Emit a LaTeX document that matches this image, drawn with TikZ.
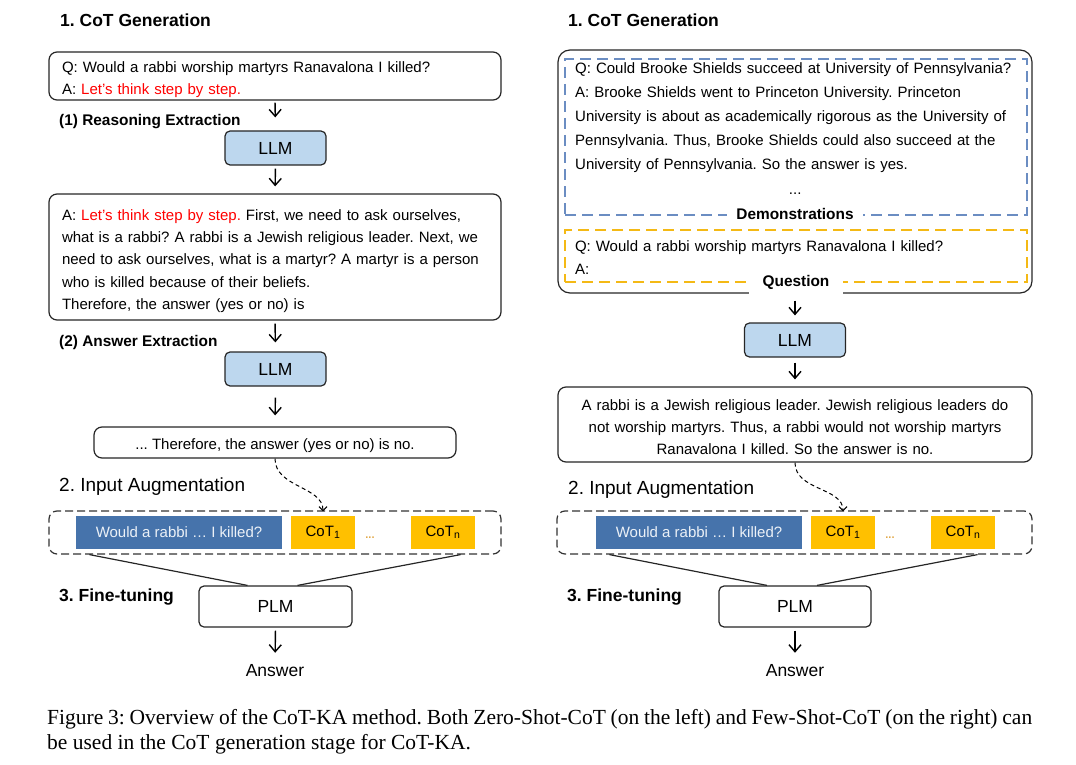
\documentclass[tikz,border=0pt]{standalone}
\usepackage{fontspec}
\setmainfont{Liberation Sans}
\newfontfamily\capfont{Liberation Serif}
\usetikzlibrary{arrows.meta,calc}

\definecolor{llmblue}{HTML}{BDD7EE}
\definecolor{qblue}{HTML}{4673AB}
\definecolor{cotgold}{HTML}{FFC000}
\definecolor{demoblue}{HTML}{6B8DC2}
\definecolor{quesgold}{HTML}{F4B915}
\definecolor{dotgold}{HTML}{E2A94A}

\newcommand{\bodyfont}{\fontsize{15}{22.3}\selectfont}
\newcommand{\bigfont}{\fontsize{17.5}{20}\selectfont}
\frenchspacing
\hyphenpenalty=10000

\begin{document}
\begin{tikzpicture}[x=1pt,y=-1pt,
  txtbox/.style={draw=black!85,line width=1.2pt,rounded corners=8pt,fill=white,inner xsep=13pt,inner ysep=0pt,font=\bodyfont},
  llmbox/.style={draw=black!85,line width=1.2pt,rounded corners=5pt,fill=llmblue,minimum width=101pt,minimum height=34pt,font=\bigfont},
  plmbox/.style={llmbox,fill=white,minimum width=153pt,minimum height=41pt},
  head/.style={anchor=base west,inner sep=0pt,font=\bigfont\bfseries},
  augtitle/.style={anchor=base west,inner sep=0pt,font=\fontsize{19}{22}\selectfont},
  subhead/.style={anchor=base west,inner sep=0pt,font=\fontsize{15.4}{18}\selectfont\bfseries},
  augbox/.style={draw=black!80,line width=1.2pt,dash pattern=on 8pt off 4pt,rounded corners=8pt,minimum height=43pt},
  qbox/.style={fill=qblue,text=white!90!qblue,minimum width=206pt,minimum height=33pt,inner sep=0pt,font=\bodyfont},
  cotbox/.style={fill=cotgold,minimum width=64pt,minimum height=33pt,inner sep=0pt,font=\bodyfont},
  dots/.style={inner sep=0pt,text=dotgold,font=\fontsize{11}{11}\selectfont\bfseries},
  label/.style={fill=white,inner sep=0pt,minimum height=24pt,font=\fontsize{15.4}{18}\selectfont\bfseries},
  flow/.style={line width=1.4pt,-{Straight Barb[length=7pt,width=12pt]}},
  hint/.style={line width=1pt,dash pattern=on 4pt off 3pt,-{Straight Barb[length=4pt,width=8pt]}},
  link/.style={line width=1.2pt,draw=black!85}]

\useasboundingbox (0,0) rectangle (1076,765);

%zero-shot side
\node[head] (gen1) at (60,26.5) {1. CoT Generation};
\node[txtbox,text width=426pt,minimum height=48pt,text height=18pt,align=left] (zq) at (275,76)
  {Q: Would a rabbi worship martyrs Ranavalona I killed?\\
   A: \textcolor{red}{Let’s think step by step.}};
\node[subhead] (step1) at (59,126) {(1) Reasoning Extraction};
\node[llmbox] (llm1) at (275.5,148) {LLM};
\node[txtbox,text width=426pt,minimum height=126pt,text height=19pt,align=left] (zr) at (275,257)
  {A: \textcolor{red}{Let’s think step by step.} First, we need to ask ourselves,\\
   what is a rabbi? A rabbi is a Jewish religious leader. Next, we\\
   need to ask ourselves, what is a martyr? A martyr is a person\\
   who is killed because of their beliefs.\\
   Therefore, the answer (yes or no) is};
\node[subhead] (step2) at (59,346.5) {(2) Answer Extraction};
\node[llmbox] (llm2) at (275.5,369) {LLM};
\node[txtbox,minimum width=362pt,minimum height=31pt,text height=17.5pt] (za) at (275,442.5)
  {... Therefore, the answer (yes or no) is no.};

\draw[flow,shorten <=2pt,shorten >=13pt] (zq.south) -- (llm1.north);
\draw[flow,shorten <=3pt,shorten >=7pt] (llm1.south) -- (zr.north);
\draw[flow,shorten <=3pt,shorten >=9pt] (zr.south) -- (llm2.north);
\draw[flow,shorten <=11pt,shorten >=11pt] (llm2.south) -- (za.north);

%few-shot side
\node[head] (gen2) at (568,26.5) {1. CoT Generation};
\node[draw=black!85,line width=1.2pt,rounded corners=12pt,minimum width=474pt,minimum height=243pt] (fs) at (795,171.5) {};
\node[draw=demoblue,line width=1.8pt,dash pattern=on 11pt off 6pt,minimum width=462pt,minimum height=156pt] (demo) at (796,137) {};
\node[anchor=north west,inner sep=0pt,text width=445pt,align=left,font=\fontsize{15}{24}\selectfont] (demotxt) at (575,62)
  {Q: Could Brooke Shields succeed at University of Pennsylvania?\\
   A: Brooke Shields went to Princeton University. Princeton\\
   University is about as academically rigorous as the University of\\
   Pennsylvania. Thus, Brooke Shields could also succeed at the\\
   University of Pennsylvania. So the answer is yes.\\[1pt]
   \makebox[440pt][c]{...}};
\node[draw=quesgold,line width=1.8pt,dash pattern=on 11pt off 6pt,minimum width=462pt,minimum height=52pt,
  text width=442pt,inner xsep=10pt,text height=14pt,align=left,font=\bodyfont] (ques) at (796,256)
  {Q: Would a rabbi worship martyrs Ranavalona I killed?\\
   A:};
\node[label,minimum width=136pt] (demolbl) at (795,214) {Demonstrations};
\node[label,minimum width=94pt] (queslbl) at (796,282) {Question};
\node[llmbox] (llmr) at (795,340) {LLM};
\node[txtbox,text width=448pt,minimum height=75pt,text height=16pt,align=center] (ansr) at (795,424.5)
  {A rabbi is a Jewish religious leader. Jewish religious leaders do\\
   not worship martyrs. Thus, a rabbi would not worship martyrs\\
   Ranavalona I killed. So the answer is no.};

\draw[flow,shorten <=7pt,shorten >=7pt] (fs.south) -- (llmr.north);
\draw[flow,shorten <=5pt,shorten >=7pt] (llmr.south) -- (ansr.north);

%input augmentation, left
\node[augtitle] (aug1) at (59,491.7) {2. Input Augmentation};
\node[augbox,minimum width=452pt] (augl) at (275,532.5) {};
\node[qbox] (ql) at (179,532) {Would a rabbi … I killed?};
\node[cotbox] (cotl1) at (323,532) {CoT\textsubscript{1}};
\node[dots] (dotl) at (370,538) {...};
\node[cotbox] (cotln) at (443,532) {CoT\textsubscript{n}};
\draw[hint,shorten >=4pt] (za.south) to[out=-90,in=90] (cotl1.north);

%input augmentation, right
\node[augtitle] (aug2) at (568,494) {2. Input Augmentation};
\node[augbox,minimum width=475pt] (augr) at (794.5,532.5) {};
\node[qbox] (qr) at (699,532) {Would a rabbi … I killed?};
\node[cotbox] (cotr1) at (843,532) {CoT\textsubscript{1}};
\node[dots] (dotr) at (890,538) {...};
\node[cotbox] (cotrn) at (963,532) {CoT\textsubscript{n}};
\draw[hint,shorten >=4pt] (ansr.south) to[out=-90,in=90] (cotr1.north);

%fine-tuning
\node[head] (ft1) at (59,601.5) {3. Fine-tuning};
\node[plmbox] (plml) at (275.5,606.5) {PLM};
\node[inner sep=0pt,anchor=base,font=\bigfont] (outl) at (275,676) {Answer};
\draw[link] ([xshift=41pt]augl.south west) -- ([xshift=-28pt]plml.north);
\draw[link] ([xshift=-41pt]augl.south east) -- ([xshift=22pt]plml.north);
\draw[flow,shorten <=3pt,shorten >=11pt] (plml.south) -- (outl.north);

\node[head] (ft2) at (567,601.5) {3. Fine-tuning};
\node[plmbox,minimum width=152pt] (plmr) at (795,606.5) {PLM};
\node[inner sep=0pt,anchor=base,font=\bigfont] (outr) at (795,676) {Answer};
\draw[link] ([xshift=53pt]augr.south west) -- ([xshift=-28pt]plmr.north);
\draw[link] ([xshift=-55pt]augr.south east) -- ([xshift=22pt]plmr.north);
\draw[flow,shorten <=3pt,shorten >=11pt] (plmr.south) -- (outr.north);

%caption
\node[anchor=base west,inner sep=0pt,font=\capfont\fontsize{21.5}{25}\selectfont] (cap1) at (47,724)
  {\makebox[985pt][s]{Figure 3: Overview of the CoT-KA method. Both Zero-Shot-CoT (on the left) and Few-Shot-CoT (on the right) can}};
\node[anchor=base west,inner sep=0pt,font=\capfont\fontsize{21.5}{25}\selectfont] (cap2) at (47,749)
  {be used in the CoT generation stage for CoT-KA.};

\end{tikzpicture}
\end{document}
